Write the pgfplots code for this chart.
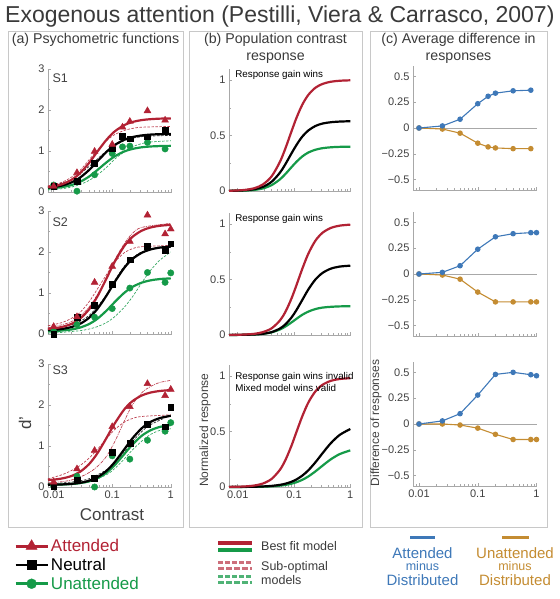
\documentclass[border=0pt]{standalone}
\usepackage{fontspec}
\setmainfont{Liberation Sans}
\usepackage{pgfplots}
\pgfplotsset{compat=1.18}
\definecolor{cRed}{HTML}{B22234}
\definecolor{cGreen}{HTML}{159A48}
\definecolor{cBlue}{HTML}{3E78B8}
\definecolor{cOrange}{HTML}{C48C32}
\definecolor{cAxis}{HTML}{A8A8A8}
\definecolor{cText}{HTML}{404040}
\definecolor{cBox}{HTML}{C8C8C8}
\definecolor{cTitle}{HTML}{3A3A3A}
\pgfplotsset{
  baseS/.style={
    scale only axis, axis lines*=left,
    axis line style={cAxis, line width=0.6pt},
    tick style={cAxis, line width=0.5pt},
    tick align=inside, major tick length=3pt, minor tick length=2pt,
    ticklabel style={font=\fontsize{11}{12}\selectfont, text=cText},
    xtick={0.01,0.1,1},
    minor xtick={0.008,0.009,0.02,0.03,0.04,0.05,0.06,0.07,0.08,0.09,0.2,0.3,0.4,0.5,0.6,0.7,0.8,0.9},
    clip=false,
  },
  aS/.style={baseS, width=124pt, height=123pt, xmin=0.008, xmax=1.05,
    ymin=0, ymax=3, ytick={0,1,2,3}, yticklabels={0,1,2,3}, minor ytick={0.5,1.5,2.5}},
  bS/.style={baseS, width=122pt, height=122pt, xmin=0.007, xmax=1.03,
    ymin=0, ymax=1.1, ytick={0,0.5,1}, yticklabels={0,0.5,1}, minor ytick={0.25,0.75}},
  cS/.style={baseS, width=124pt, height=124pt, xmin=0.0079, xmax=1.02,
    ymin=-0.6, ymax=0.6, ytick={-0.5,-0.25,0,0.25,0.5}, yticklabels={−0.5,−0.25,0,0.25,0.5}},
  fitL/.style={line width=2.2pt, smooth},
  subD/.style={line width=0.7pt, smooth, dash pattern=on 2.5pt off 1.5pt, opacity=0.85},
  subDD/.style={line width=0.7pt, smooth, dash pattern=on 3pt off 1pt on 0.8pt off 1pt, opacity=0.85},
  markA/.style={only marks, mark=triangle*, mark size=4.0pt, cRed},
  markN/.style={only marks, mark=square*, mark size=2.9pt, black},
  markU/.style={only marks, mark=*, mark size=3.2pt, cGreen},
  curveB/.style={line width=2.2pt, smooth},
  lineC/.style={line width=1.1pt, mark=*, mark size=2.2pt},
}
\begin{document}
\begin{tikzpicture}[x=1pt,y=1pt]
\path[use as bounding box] (0,0) rectangle (559,599);
% boxes
\draw[cBox, line width=0.8pt] (8,72) rectangle (183,568);
\draw[cBox, line width=0.8pt] (189,72) rectangle (362,568);
\draw[cBox, line width=0.8pt] (370,72) rectangle (547,568);
% titles
\node[anchor=west, inner sep=0pt, text=cTitle, font=\fontsize{23}{26}\selectfont] at (5,582.5) {Exogenous attention (Pestilli, Viera \& Carrasco, 2007)};
\node[inner sep=0pt, text=cTitle, font=\fontsize{14.2}{17}\selectfont] at (95.5,559) {(a) Psychometric functions};
\node[inner sep=0pt, align=center, text=cTitle, font=\fontsize{14.2}{17}\selectfont] at (275.5,550.5) {(b) Population contrast\\response};
\node[inner sep=0pt, align=center, text=cTitle, font=\fontsize{14.2}{17}\selectfont] at (458.5,550.5) {(c) Average difference in\\responses};
% axis labels
\node[inner sep=0pt, text=cText, font=\fontsize{17}{20}\selectfont] at (112,84) {Contrast};
\node[inner sep=0pt, rotate=90, text=cText, font=\fontsize{17}{20}\selectfont] at (25,176) {d’};
\node[inner sep=0pt, rotate=90, text=cText, font=\fontsize{12}{14}\selectfont] at (205,169) {Normalized response};
\node[inner sep=0pt, rotate=90, text=cText, font=\fontsize{12}{14}\selectfont] at (376,176) {Difference of responses};

% ================= Panel a, S1 =================
\begin{axis}[xmode=log, aS, at={(48pt,407pt)}, anchor=south west, xticklabels={,,}]
\addplot[subD, cRed] coordinates {(0.008,0.15)(0.014,0.24)(0.02,0.36)(0.028,0.52)(0.04,0.78)(0.056,1.02)(0.08,1.25)(0.11,1.4)(0.16,1.5)(0.22,1.55)(0.32,1.58)(1,1.6)};
\addplot[subD, black] coordinates {(0.008,0.12)(0.02,0.3)(0.04,0.62)(0.08,1.0)(0.16,1.25)(0.32,1.35)(1,1.38)};
\addplot[subD, cGreen] coordinates {(0.008,0.05)(0.014,0.08)(0.02,0.12)(0.028,0.18)(0.04,0.28)(0.056,0.42)(0.08,0.6)(0.11,0.8)(0.16,0.98)(0.22,1.1)(0.32,1.18)(0.45,1.22)(1,1.25)};
\addplot[fitL, cGreen] coordinates {(0.008,0.087)(0.01,0.096)(0.014,0.120)(0.02,0.167)(0.028,0.245)(0.04,0.374)(0.056,0.538)(0.08,0.724)(0.11,0.868)(0.16,0.988)(0.22,1.049)(0.32,1.091)(0.45,1.110)(0.65,1.120)(1.0,1.126)};
\addplot[fitL, black] coordinates {(0.008,0.107)(0.01,0.121)(0.014,0.159)(0.02,0.232)(0.028,0.348)(0.04,0.533)(0.056,0.75)(0.08,0.979)(0.11,1.144)(0.16,1.274)(0.22,1.338)(0.32,1.380)(0.45,1.400)(0.65,1.410)(1.0,1.416)};
\addplot[fitL, cRed] coordinates {(0.008,0.12)(0.01,0.139)(0.014,0.192)(0.02,0.294)(0.028,0.455)(0.04,0.704)(0.056,0.988)(0.08,1.275)(0.11,1.476)(0.16,1.630)(0.22,1.706)(0.32,1.754)(0.45,1.776)(0.65,1.789)(1.0,1.795)};
\addplot[markU] coordinates {(0.01,0.17)(0.025,0.02)(0.05,0.42)(0.1,0.94)(0.15,1.10)(0.2,1.12)(0.4,1.21)(0.8,1.05)};
\addplot[markN] coordinates {(0.01,0.14)(0.025,0.26)(0.05,0.70)(0.1,1.06)(0.15,1.36)(0.2,1.30)(0.4,1.35)(0.8,1.50)};
\addplot[markA] coordinates {(0.01,0.14)(0.025,0.47)(0.05,0.99)(0.1,1.16)(0.15,1.58)(0.2,1.72)(0.4,1.98)(0.8,1.75)};
\node[anchor=west, inner sep=0pt, text=cText, font=\fontsize{12.5}{14}\selectfont] at (axis cs:0.0095,2.78) {S1};
\end{axis}

% ================= Panel a, S2 =================
\begin{axis}[xmode=log, aS, at={(48pt,265pt)}, anchor=south west, xticklabels={,,}]
\addplot[subDD, cRed] coordinates {(0.008,0.15)(0.02,0.3)(0.04,0.65)(0.08,1.35)(0.11,1.8)(0.16,2.2)(0.22,2.45)(0.32,2.6)(1,2.7)};
\addplot[subD, cRed] coordinates {(0.008,0.2)(0.014,0.28)(0.02,0.38)(0.028,0.52)(0.04,0.78)(0.056,1.1)(0.08,1.45)(0.11,1.75)(0.16,1.98)(0.22,2.08)(0.32,2.13)(1,2.16)};
\addplot[subD, black] coordinates {(0.008,0.12)(0.02,0.22)(0.04,0.45)(0.08,0.95)(0.11,1.3)(0.16,1.65)(0.22,1.85)(0.32,2.0)(0.65,2.12)(1,2.15)};
\addplot[subD, cGreen] coordinates {(0.008,0.02)(0.014,0.04)(0.02,0.06)(0.028,0.08)(0.04,0.12)(0.056,0.18)(0.08,0.28)(0.11,0.42)(0.16,0.65)(0.22,0.9)(0.32,1.25)(0.45,1.55)(0.65,1.8)(1,2.0)};
\addplot[fitL, cGreen] coordinates {(0.008,0.068)(0.01,0.073)(0.014,0.085)(0.02,0.110)(0.028,0.155)(0.04,0.241)(0.056,0.373)(0.08,0.571)(0.11,0.777)(0.16,1.002)(0.22,1.146)(0.32,1.253)(0.45,1.308)(0.65,1.340)(1.0,1.357)};
\addplot[fitL, black] coordinates {(0.008,0.095)(0.01,0.103)(0.014,0.124)(0.02,0.168)(0.028,0.245)(0.04,0.392)(0.056,0.614)(0.08,0.939)(0.11,1.266)(0.16,1.610)(0.22,1.825)(0.32,1.982)(0.45,2.061)(0.65,2.107)(1.0,2.131)};
\addplot[fitL, cRed] coordinates {(0.008,0.124)(0.01,0.138)(0.014,0.173)(0.02,0.245)(0.028,0.369)(0.04,0.596)(0.056,0.920)(0.08,1.358)(0.11,1.759)(0.16,2.143)(0.22,2.365)(0.32,2.521)(0.45,2.597)(0.65,2.639)(1.0,2.663)};
\addplot[markU] coordinates {(0.01,0.06)(0.025,0.23)(0.05,0.41)(0.1,0.62)(0.2,1.12)(0.4,1.5)(0.8,1.26)(1,1.49)};
\addplot[markN] coordinates {(0.01,0.0)(0.025,0.41)(0.05,0.71)(0.1,1.22)(0.2,1.81)(0.4,2.14)(0.8,2.04)(1,2.2)};
\addplot[markA] coordinates {(0.01,0.18)(0.025,0.42)(0.05,1.26)(0.1,1.65)(0.2,2.26)(0.4,2.9)(0.8,2.44)(1,2.56)};
\node[anchor=west, inner sep=0pt, text=cText, font=\fontsize{12.5}{14}\selectfont] at (axis cs:0.0095,2.72) {S2};
\end{axis}

% ================= Panel a, S3 =================
\begin{axis}[xmode=log, aS, at={(48pt,112pt)}, anchor=south west, xticklabels={0.01,0.1,1}]
\addplot[subDD, cRed] coordinates {(0.008,0.1)(0.014,0.13)(0.02,0.17)(0.028,0.24)(0.04,0.35)(0.056,0.5)(0.08,0.75)(0.11,1.1)(0.16,1.6)(0.22,2.0)(0.32,2.3)(0.45,2.45)(0.65,2.55)(1,2.6)};
\addplot[subD, cRed] coordinates {(0.008,0.2)(0.014,0.3)(0.02,0.4)(0.028,0.52)(0.04,0.7)(0.056,0.92)(0.08,1.18)(0.11,1.4)(0.16,1.58)(0.22,1.67)(0.32,1.72)(1,1.76)};
\addplot[subD, black] coordinates {(0.008,0.08)(0.02,0.12)(0.04,0.2)(0.08,0.42)(0.11,0.6)(0.16,0.85)(0.22,1.1)(0.32,1.35)(0.45,1.52)(1,1.75)};
\addplot[subD, cGreen] coordinates {(0.008,0.04)(0.02,0.06)(0.04,0.12)(0.08,0.3)(0.11,0.45)(0.16,0.68)(0.22,0.9)(0.32,1.12)(0.45,1.28)(0.65,1.38)(1,1.42)};
\addplot[fitL, cGreen] coordinates {(0.008,0.054)(0.01,0.056)(0.014,0.061)(0.02,0.073)(0.028,0.095)(0.04,0.138)(0.056,0.214)(0.08,0.35)(0.11,0.532)(0.16,0.80)(0.22,1.031)(0.32,1.25)(0.45,1.382)(0.65,1.465)(1.0,1.513)};
\addplot[fitL, black] coordinates {(0.008,0.054)(0.01,0.057)(0.014,0.063)(0.02,0.077)(0.028,0.101)(0.04,0.152)(0.056,0.239)(0.08,0.396)(0.11,0.605)(0.16,0.915)(0.22,1.181)(0.32,1.434)(0.45,1.586)(0.65,1.681)(1.0,1.737)};
\addplot[fitL, cRed] coordinates {(0.008,0.170)(0.01,0.180)(0.014,0.209)(0.02,0.267)(0.028,0.368)(0.04,0.554)(0.056,0.825)(0.08,1.198)(0.11,1.546)(0.16,1.889)(0.22,2.090)(0.32,2.233)(0.45,2.303)(0.65,2.342)(1.0,2.364)};
\addplot[markU] coordinates {(0.01,0.02)(0.025,0.26)(0.05,0.0)(0.1,0.76)(0.2,0.68)(0.4,1.14)(0.8,1.36)(1,1.57)};
\addplot[markN] coordinates {(0.01,0.02)(0.025,0.17)(0.05,0.22)(0.1,0.84)(0.2,1.07)(0.4,1.53)(0.8,1.47)(1,1.94)};
\addplot[markA] coordinates {(0.01,0.12)(0.025,0.44)(0.05,0.89)(0.1,1.47)(0.2,1.96)(0.4,2.52)(0.8,2.23)(1,2.38)};
\node[anchor=west, inner sep=0pt, text=cText, font=\fontsize{12.5}{14}\selectfont] at (axis cs:0.0095,2.85) {S3};
\end{axis}

% ================= Panel b =================
\begin{axis}[xmode=log, bS, at={(229pt,408pt)}, anchor=south west, xticklabels={,,}]
\addplot[curveB, cGreen] coordinates {(0.007,.001)(0.01,.002)(0.014,.004)(0.02,.010)(0.028,.023)(0.04,.053)(0.056,.104)(0.07,.152)(0.09,.214)(0.11,.262)(0.14,.311)(0.18,.347)(0.24,.372)(0.32,.386)(0.45,.394)(0.65,.398)(1.0,.399)};
\addplot[curveB, black] coordinates {(0.007,.001)(0.01,.003)(0.014,.007)(0.02,.017)(0.028,.037)(0.04,.083)(0.056,.164)(0.07,.240)(0.09,.338)(0.11,.413)(0.14,.490)(0.18,.546)(0.24,.586)(0.32,.608)(0.45,.620)(0.65,.626)(1.0,.629)};
\addplot[curveB, cRed] coordinates {(0.007,.002)(0.01,.005)(0.014,.011)(0.02,.026)(0.028,.059)(0.04,.132)(0.056,.261)(0.07,.381)(0.09,.536)(0.11,.656)(0.14,.777)(0.18,.867)(0.24,.931)(0.32,.965)(0.45,.985)(0.65,.994)(1.0,.998)};
\node[anchor=west, inner sep=0pt, font=\fontsize{9.8}{11}\selectfont] at (axis cs:0.009,1.05) {Response gain wins};
\end{axis}
\begin{axis}[xmode=log, bS, at={(229pt,264pt)}, anchor=south west, xticklabels={,,}]
\addplot[curveB, cGreen] coordinates {(0.007,.0003)(0.01,.0008)(0.014,.0019)(0.02,.0046)(0.028,.0103)(0.04,.0239)(0.056,.0494)(0.07,.0757)(0.09,.113)(0.11,.145)(0.14,.182)(0.18,.211)(0.24,.234)(0.32,.247)(0.45,.254)(0.65,.258)(1.0,.259)};
\addplot[curveB, black] coordinates {(0.007,.0004)(0.01,.0009)(0.014,.002)(0.02,.0048)(0.028,.011)(0.04,.026)(0.056,.058)(0.07,.095)(0.09,.157)(0.11,.223)(0.14,.315)(0.18,.411)(0.24,.500)(0.32,.559)(0.45,.598)(0.65,.617)(1.0,.625)};
\addplot[curveB, cRed] coordinates {(0.007,.001)(0.01,.002)(0.014,.005)(0.02,.011)(0.028,.026)(0.04,.060)(0.056,.130)(0.07,.206)(0.09,.328)(0.11,.446)(0.14,.595)(0.18,.734)(0.24,.850)(0.32,.921)(0.45,.965)(0.65,.986)(1.0,.995)};
\node[anchor=west, inner sep=0pt, font=\fontsize{9.8}{11}\selectfont] at (axis cs:0.009,1.045) {Response gain wins};
\end{axis}
\begin{axis}[xmode=log, bS, at={(229pt,112pt)}, anchor=south west, xticklabels={0.01,0.1,1}]
\addplot[curveB, cGreen] coordinates {(0.007,.0002)(0.01,.0004)(0.014,.0008)(0.02,.0016)(0.028,.0031)(0.04,.0063)(0.056,.0121)(0.07,.0186)(0.09,.0297)(0.11,.0427)(0.14,.0644)(0.18,.0953)(0.24,.1405)(0.32,.1916)(0.45,.2492)(0.65,.2968)(1.0,.3303)};
\addplot[curveB, black] coordinates {(0.007,.0003)(0.01,.0006)(0.014,.0012)(0.02,.0025)(0.028,.0049)(0.04,.0100)(0.056,.0192)(0.07,.0294)(0.09,.0471)(0.11,.0676)(0.14,.1019)(0.18,.1509)(0.24,.2224)(0.32,.3033)(0.45,.3946)(0.65,.4699)(1.0,.5229)};
\addplot[curveB, cRed] coordinates {(0.007,.001)(0.01,.0025)(0.014,.0057)(0.02,.0137)(0.028,.0312)(0.04,.0727)(0.056,.154)(0.07,.240)(0.09,.371)(0.11,.493)(0.14,.636)(0.18,.762)(0.24,.862)(0.32,.921)(0.45,.957)(0.65,.974)(1.0,.981)};
\node[anchor=west, inner sep=0pt, font=\fontsize{9.8}{11}\selectfont] at (axis cs:0.009,0.99) {Response gain wins invalid};
\node[anchor=west, inner sep=0pt, font=\fontsize{9.8}{11}\selectfont] at (axis cs:0.009,0.89) {Mixed model wins valid};
\end{axis}

% ================= Panel c =================
\begin{axis}[xmode=log, cS, at={(413pt,409pt)}, anchor=south west, xticklabels={,,}]
\draw[cAxis, line width=0.8pt] (axis cs:0.0079,0) -- (axis cs:1.0,0);
\addplot[lineC, cOrange] coordinates {(0.01,0)(0.025,-0.01)(0.05,-0.05)(0.1,-0.147)(0.15,-0.183)(0.2,-0.193)(0.4,-0.2)(0.8,-0.2)};
\addplot[lineC, cBlue] coordinates {(0.01,0)(0.025,0.02)(0.05,0.085)(0.1,0.235)(0.15,0.307)(0.2,0.337)(0.4,0.36)(0.8,0.366)};
\end{axis}
\begin{axis}[xmode=log, cS, at={(413pt,263pt)}, anchor=south west, xticklabels={,,}]
\draw[cAxis, line width=0.8pt] (axis cs:0.0079,0) -- (axis cs:1.0,0);
\addplot[lineC, cOrange] coordinates {(0.01,0)(0.025,-0.01)(0.05,-0.05)(0.1,-0.175)(0.2,-0.27)(0.4,-0.27)(0.8,-0.27)(1,-0.27)};
\addplot[lineC, cBlue] coordinates {(0.01,0)(0.025,0.016)(0.05,0.08)(0.1,0.24)(0.2,0.36)(0.4,0.39)(0.8,0.40)(1,0.40)};
\end{axis}
\begin{axis}[xmode=log, cS, at={(413pt,113pt)}, anchor=south west, xticklabels={0.01,0.1,1}]
\draw[cAxis, line width=0.8pt] (axis cs:0.0079,0) -- (axis cs:1.0,0);
\addplot[lineC, cOrange] coordinates {(0.01,0)(0.025,0)(0.05,-0.01)(0.1,-0.04)(0.2,-0.10)(0.4,-0.15)(0.8,-0.15)(1,-0.15)};
\addplot[lineC, cBlue] coordinates {(0.01,0)(0.025,0.03)(0.05,0.10)(0.1,0.28)(0.2,0.48)(0.4,0.50)(0.8,0.477)(1,0.467)};
\end{axis}

% ================= Legends =================
\begin{axis}[hide axis, scale only axis, width=10pt, height=10pt, at={(14pt,62pt)}, anchor=north west,
  xmin=0, xmax=1, ymin=0, ymax=1,
  legend style={at={(0,1)}, anchor=north west, draw=none, fill=none, inner sep=0pt,
    row sep=1pt, font=\fontsize{17}{19}\selectfont,
    /tikz/every even column/.append style={column sep=3pt}},
  legend cell align=left,
  legend image code/.code={\draw[mark repeat=2, mark phase=2, #1] plot coordinates {(0pt,0pt) (16pt,0pt) (32pt,0pt)};}]
\addlegendimage{cRed, line width=2.8pt, mark=triangle*, mark size=6.5pt, mark options={solid, line width=0.3pt}}
\addlegendentry{\textcolor{cRed}{Attended}}
\addlegendimage{black, line width=2.8pt, mark=square*, mark size=4.5pt, mark options={solid, line width=0.3pt}}
\addlegendentry{\textcolor{black}{Neutral}}
\addlegendimage{cGreen, line width=2.8pt, mark=*, mark size=5pt, mark options={solid, line width=0.3pt}}
\addlegendentry{\textcolor{cGreen}{Unattended}}
\end{axis}

\draw[cRed, line width=3.5pt] (218,56) -- (252,56);
\draw[cGreen, line width=3.5pt] (218,49) -- (252,49);
\draw[cRed, opacity=0.65, line width=3pt, dash pattern=on 5pt off 2pt] (218,36) -- (252,36);
\draw[cRed, opacity=0.65, line width=3pt, dash pattern=on 6pt off 2pt] (218,30) -- (252,30);
\draw[cGreen, opacity=0.75, line width=3pt, dash pattern=on 5pt off 2pt] (218,22) -- (252,22);
\draw[cGreen, opacity=0.75, line width=3pt, dash pattern=on 6pt off 2pt] (218,16) -- (252,16);
\node[anchor=west, inner sep=0pt, text=cTitle, font=\fontsize{12.5}{14}\selectfont] at (261,53) {Best fit model};
\node[anchor=west, inner sep=0pt, text=cTitle, font=\fontsize{12.5}{14}\selectfont] at (261,32) {Sub-optimal};
\node[anchor=west, inner sep=0pt, text=cTitle, font=\fontsize{12.5}{14}\selectfont] at (261,19) {models};

\draw[cBlue, line width=3pt] (410,61) -- (435,61);
\node[inner sep=0pt, text=cBlue, font=\fontsize{15}{17}\selectfont] at (422.5,46) {Attended};
\node[inner sep=0pt, text=cBlue, font=\fontsize{12.5}{13}\selectfont] at (422.5,33) {minus};
\node[inner sep=0pt, text=cBlue, font=\fontsize{15}{17}\selectfont] at (422.5,19) {Distributed};
\draw[cOrange, line width=3pt] (502,61) -- (529,61);
\node[inner sep=0pt, text=cOrange, font=\fontsize{15}{17}\selectfont] at (515,46) {Unattended};
\node[inner sep=0pt, text=cOrange, font=\fontsize{12.5}{13}\selectfont] at (515,33) {minus};
\node[inner sep=0pt, text=cOrange, font=\fontsize{15}{17}\selectfont] at (515,19) {Distributed};
\end{tikzpicture}
\end{document}
